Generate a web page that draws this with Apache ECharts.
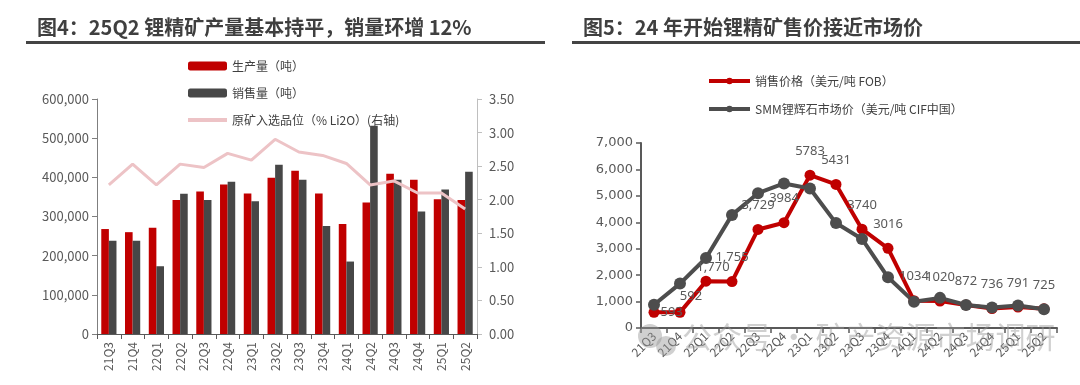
<!DOCTYPE html>
<html><head><meta charset="utf-8">
<script src="https://cdn.jsdelivr.net/npm/echarts@6/dist/echarts.min.js"></script>
<style>html,body{margin:0;padding:0;background:#fff}#c{width:1080px;height:385px}</style>
</head><body><div id="c"></div>
<script>
const quarters = ['21Q3','21Q4','22Q1','22Q2','22Q3','22Q4','23Q1','23Q2','23Q3','23Q4','24Q1','24Q2','24Q3','24Q4','25Q1','25Q2'];
const production = [268000,260000,271000,342000,364000,382000,359000,399000,417000,359000,281000,336000,409000,394000,344000,342000];
const sales = [238000,238000,173000,358000,342000,389000,339000,432000,394000,276000,185000,532000,394000,313000,369000,414000];
const grade = [2.22,2.53,2.22,2.53,2.48,2.69,2.59,2.90,2.71,2.66,2.54,2.22,2.28,2.10,2.10,1.86];
const salePrice = [593,592,1770,1755,3729,3984,5783,5431,3740,3016,1034,1020,872,736,791,725];
const salePriceLabels = ['593','592','1,770','1,755','3,729','3984','5783','5431','3740','3016','1034','1020','872','736','791','725'];
const smmPrice = [880,1680,2650,4280,5100,5470,5280,3970,3370,1920,990,1140,870,780,850,710];

const title1 = '图4：25Q2 锂精矿产量基本持平，销量环增 12%';
const title2 = '图5：24 年开始锂精矿售价接近市场价';
const watermark = '公众号 · 矿产资源市场调研';

const FONT = '"Noto Sans CJK SC", "Noto Sans", sans-serif';
const txt = '#595959';
const fmtComma = v => Number(v).toLocaleString('en-US');

// per-point label placement tweaks for the sale-price series
const labelTweaks = {0: {position: 'right', distance: 1, offset: [0, 0]}, 1: {offset: [11, 8]}, 2: {offset: [7, 10]}};
const salePriceData = salePrice.map((v, i) => {
  const t = labelTweaks[i];
  return t ? {value: v, label: t} : v;
});

const chart = echarts.init(document.getElementById('c'), null, {renderer: 'canvas'});
chart.setOption({
  animation: false,
  backgroundColor: '#fff',
  textStyle: {fontFamily: FONT},
  graphic: [
    {type: 'text', left: 37, top: 17, style: {text: title1, font: 'bold 20px ' + FONT, fill: '#3f3f3f'}},
    {type: 'rect', shape: {x: 26, y: 41, width: 519, height: 3}, style: {fill: '#444'}},
    {type: 'text', left: 583, top: 17, style: {text: title2, font: 'bold 20px ' + FONT, fill: '#3f3f3f'}},
    {type: 'rect', shape: {x: 572, y: 41, width: 508, height: 3}, style: {fill: '#444'}},
    {type: 'text', left: 682, top: 322, z: 100, style: {text: watermark, font: '30px ' + FONT, fill: 'rgba(150,150,150,0.45)'}},
    {type: 'circle', z: 100, shape: {cx: 650, cy: 336, r: 12}, style: {fill: 'rgba(150,150,150,0.45)'}},
    {type: 'circle', z: 100, shape: {cx: 666, cy: 346, r: 10}, style: {fill: 'rgba(150,150,150,0.45)'}}
  ],
  legend: [
    {
      left: 181, top: 54, orient: 'vertical', itemWidth: 39, itemHeight: 9, itemGap: 13,
      textStyle: {color: '#404040', fontSize: 12, lineHeight: 14, fontFamily: FONT},
      data: ['生产量（吨）', '销售量（吨）',
        {name: '原矿入选品位（% Li2O）(右轴)', itemStyle: {color: 'rgba(0,0,0,0)', borderWidth: 0, opacity: 0}, lineStyle: {width: 4}}]
    },
    {
      left: 702, top: 69, orient: 'vertical', itemWidth: 41, itemHeight: 8, itemGap: 14,
      lineStyle: {width: 4},
      textStyle: {color: '#404040', fontSize: 12, lineHeight: 14, fontFamily: FONT},
      data: ['销售价格（美元/吨 FOB）', 'SMM锂辉石市场价（美元/吨 CIF中国）']
    }
  ],
  grid: [
    {left: 97, right: 603, top: 99, bottom: 51, containLabel: false},
    {left: 641, right: 23, top: 143, bottom: 57, containLabel: false}
  ],
  xAxis: [
    {
      type: 'category', gridIndex: 0, data: quarters,
      axisLine: {lineStyle: {color: '#595959', width: 1}},
      axisTick: {show: true, length: 5, lineStyle: {color: '#595959'}},
      axisLabel: {rotate: 90, color: txt, fontSize: 12, margin: 8, fontFamily: FONT}
    },
    {
      type: 'category', gridIndex: 1, data: quarters,
      axisLine: {lineStyle: {color: '#595959', width: 2}},
      axisTick: {show: true, length: 5, lineStyle: {color: '#595959', width: 1.5}},
      axisLabel: {rotate: 45, color: txt, fontSize: 12, margin: 6, fontFamily: FONT}
    }
  ],
  yAxis: [
    {
      type: 'value', gridIndex: 0, min: 0, max: 600000, interval: 100000,
      splitLine: {show: false},
      axisLine: {show: true, lineStyle: {color: '#7f7f7f'}},
      axisTick: {show: true, length: 5, lineStyle: {color: '#7f7f7f'}},
      axisLabel: {color: txt, fontSize: 13, margin: 8, formatter: fmtComma, fontFamily: FONT}
    },
    {
      type: 'value', gridIndex: 0, position: 'right', min: 0, max: 3.5, interval: 0.5,
      splitLine: {show: false},
      axisLine: {show: true, lineStyle: {color: '#bfbfbf'}},
      axisTick: {show: true, length: 5, lineStyle: {color: '#bfbfbf'}},
      axisLabel: {color: txt, fontSize: 13, margin: 12, formatter: v => v.toFixed(2), fontFamily: FONT}
    },
    {
      type: 'value', gridIndex: 1, min: 0, max: 7000, interval: 1000,
      splitLine: {show: false},
      axisLine: {show: true, lineStyle: {color: '#595959', width: 2}},
      axisTick: {show: true, length: 5, lineStyle: {color: '#595959', width: 1.5}},
      axisLabel: {color: txt, fontSize: 13, margin: 8, formatter: fmtComma, fontFamily: '"DejaVu Sans", sans-serif'}
    }
  ],
  series: [
    {
      name: '生产量（吨）', type: 'bar', xAxisIndex: 0, yAxisIndex: 0, data: production,
      itemStyle: {color: '#C00000'}, barGap: '0%', barCategoryGap: '36%'
    },
    {
      name: '销售量（吨）', type: 'bar', xAxisIndex: 0, yAxisIndex: 0, data: sales,
      itemStyle: {color: '#474747'}, barGap: '0%', barCategoryGap: '36%'
    },
    {
      name: '原矿入选品位（% Li2O）(右轴)', type: 'line', xAxisIndex: 0, yAxisIndex: 1, data: grade,
      showSymbol: false, symbol: 'none', lineStyle: {color: '#EDC3C6', width: 3}, itemStyle: {color: '#EDC3C6'}, z: 5
    },
    {
      name: '销售价格（美元/吨 FOB）', type: 'line', xAxisIndex: 1, yAxisIndex: 2, data: salePriceData,
      symbol: 'circle', symbolSize: 11, lineStyle: {color: '#C00000', width: 4}, itemStyle: {color: '#C00000'},
      label: {show: true, position: 'top', distance: 12, color: txt, fontSize: 13,
        fontFamily: '"Noto Sans", sans-serif',
        formatter: p => salePriceLabels[p.dataIndex]}
    },
    {
      name: 'SMM锂辉石市场价（美元/吨 CIF中国）', type: 'line', xAxisIndex: 1, yAxisIndex: 2, data: smmPrice,
      symbol: 'circle', symbolSize: 12, lineStyle: {color: '#4d4d4d', width: 4}, itemStyle: {color: '#4d4d4d'}
    }
  ]
});
</script></body></html>
